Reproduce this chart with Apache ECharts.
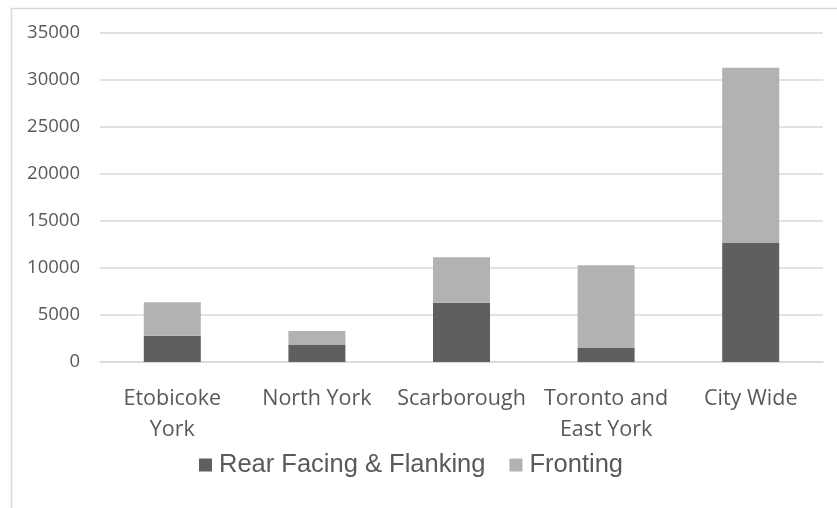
<!DOCTYPE html>
<html>
<head>
<meta charset="utf-8">
<script src="https://cdn.jsdelivr.net/npm/echarts@6/dist/echarts.min.js"></script>
<style>
html,body{margin:0;padding:0;background:#fff;}
#chart{width:837px;height:508px;}
</style>
</head>
<body>
<div id="chart"></div>
<script>
var categories = ['Etobicoke\nYork', 'North York', 'Scarborough', 'Toronto and\nEast York', 'City Wide'];
var rearFacing = [2800, 1850, 6300, 1500, 12700];
var fronting = [3550, 1450, 4850, 8800, 18600];
var yTicks = [0, 5000, 10000, 15000, 20000, 25000, 30000, 35000];

var chart = echarts.init(document.getElementById('chart'));
chart.setOption({
  animation: false,
  backgroundColor: '#ffffff',
  graphic: [{
    type: 'rect',
    shape: {x: 11.5, y: 8.5, width: 900, height: 600},
    style: {fill: 'none', stroke: '#d9d9d9', lineWidth: 1.5},
    silent: true
  }],
  grid: {left: 100, right: 14, top: 33, bottom: 146},
  legend: {
    data: ['Rear Facing & Flanking', 'Fronting'],
    left: 194,
    top: 447,
    itemWidth: 13,
    itemHeight: 13,
    itemGap: 24,
    icon: 'rect',
    textStyle: {fontFamily: 'Liberation Sans', fontSize: 25.5, color: '#595959', padding: [0, 0, 0, 2]}
  },
  xAxis: {
    type: 'category',
    data: categories,
    axisLine: {show: true, lineStyle: {color: '#d9d9d9', width: 1.5}},
    axisTick: {show: false},
    axisLabel: {
      interval: 0,
      margin: 21,
      fontFamily: 'Open Sans',
      fontSize: 21.5,
      lineHeight: 31,
      color: '#595959'
    }
  },
  yAxis: {
    type: 'value',
    min: yTicks[0],
    max: yTicks[yTicks.length - 1],
    interval: 5000,
    axisLine: {show: false},
    axisTick: {show: false},
    splitLine: {lineStyle: {color: '#d9d9d9', width: 1.5}},
    axisLabel: {
      margin: 20,
      fontFamily: 'Open Sans',
      fontSize: 18.5,
      color: '#595959',
      formatter: function (v) { return String(v); }
    }
  },
  series: [
    {
      name: 'Rear Facing & Flanking',
      type: 'bar',
      stack: 'total',
      barWidth: 57,
      data: rearFacing,
      itemStyle: {color: '#5f5f5f'}
    },
    {
      name: 'Fronting',
      type: 'bar',
      stack: 'total',
      barWidth: 57,
      data: fronting,
      itemStyle: {color: '#b2b2b2'}
    }
  ]
});
</script>
</body>
</html>
